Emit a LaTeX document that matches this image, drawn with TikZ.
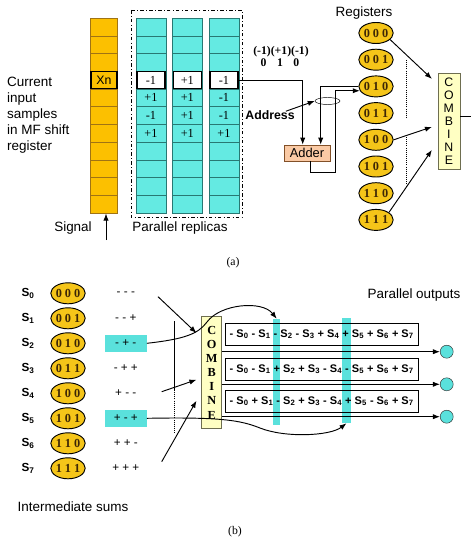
\documentclass[tikz,border=0pt]{standalone}
\usepackage{fontspec}
\setmainfont{Liberation Sans}
\newfontfamily\tms{Liberation Serif}
\usetikzlibrary{arrows.meta,calc,shapes.geometric}

\definecolor{sigorange}{RGB}{252,192,0}
\definecolor{sigline}{RGB}{160,115,20}
\definecolor{repcyan}{RGB}{100,234,226}
\definecolor{repline}{RGB}{40,120,115}
\definecolor{regfill}{RGB}{245,197,25}
\definecolor{regtext}{RGB}{60,38,5}
\definecolor{adderfill}{RGB}{250,202,165}
\definecolor{adderline}{RGB}{130,80,40}
\definecolor{combfill}{RGB}{255,255,195}
\definecolor{combline}{RGB}{110,110,80}
\definecolor{outcyan}{RGB}{90,225,220}

\newcommand{\Sx}[1]{S\textsubscript{#1}}

\tikzset{
	lbl/.style={inner sep=0pt, font=\fontsize{11.5}{13.7}\selectfont},
	boldlbl/.style={inner sep=0pt, font=\bfseries\fontsize{10.5}{12}\selectfont},
	coef/.style={inner sep=0pt, font=\tms\bfseries\fontsize{10}{12}\selectfont},
	capt/.style={inner sep=0pt, font=\tms\fontsize{10}{12}\selectfont},
	sigcolumn/.style={draw=sigline, fill=sigorange, minimum width=0.8cm,
		minimum height=5.85cm, inner sep=0pt},
	repcolumn/.style={draw=repline, fill=repcyan, minimum width=0.9cm,
		minimum height=5.85cm, inner sep=0pt},
	wcell/.style={draw=black, line width=1pt, fill=white, minimum width=0.84cm,
		minimum height=0.5cm, inner sep=0pt, font=\tms\fontsize{10.5}{12}\selectfont},
	val/.style={inner sep=0pt, font=\tms\fontsize{10.5}{12}\selectfont},
	xncell/.style={draw=black, line width=1pt, minimum width=0.78cm,
		minimum height=0.5cm, inner sep=0pt, font=\fontsize{10.5}{12}\selectfont},
	reg/.style={ellipse, draw=black, line width=0.8pt, fill=regfill, minimum width=0.96cm,
		minimum height=0.63cm, inner sep=0pt, text=regtext,
		font=\tms\bfseries\fontsize{10.5}{11}\selectfont},
	adderbox/.style={draw=adderline, fill=adderfill, minimum width=1.38cm,
		minimum height=0.48cm, inner sep=0pt, font=\fontsize{11}{12}\selectfont},
	combtop/.style={draw=combline, fill=combfill, minimum width=0.66cm,
		minimum height=2.88cm, inner sep=0pt, align=center,
		font=\fontsize{10.5}{11.1}\selectfont},
	combbot/.style={draw=combline, fill=combfill, minimum width=0.6cm,
		minimum height=3.35cm, inner sep=0pt, align=center,
		font=\tms\bfseries\fontsize{10.5}{12.1}\selectfont},
	slab/.style={inner sep=0pt, font=\bfseries\fontsize{10}{12}\selectfont},
	patbox/.style={minimum width=1.25cm, minimum height=0.5cm, inner sep=0pt,
		font=\fontsize{10}{12}\selectfont},
	sumbox/.style={draw=black, minimum width=5.8cm, minimum height=0.65cm,
		inner sep=0pt, font=\bfseries\fontsize{9.4}{11}\selectfont},
	hlbar/.style={fill=outcyan, minimum width=0.2cm, inner sep=0pt},
	outc/.style={circle, draw=black!80, fill=outcyan, minimum size=0.39cm, inner sep=0pt},
	conn/.style={line width=0.8pt, -{Latex[length=6pt,width=4.5pt]}},
	line/.style={line width=0.8pt}
}

\begin{document}
\begin{tikzpicture}[x=0.03cm, y=-0.03cm]
	\useasboundingbox (0,0) rectangle (471,540);

	% Signalregister
	\node[sigcolumn] (sigcol) at (104,115.8) {};
	\foreach \k in {1,...,10}
		\draw[sigline] (sigcol.north west) ++(0,\k*17.73) -- ++(26.6,0);
	\node[xncell] (xn) at ($(sigcol.north)+(0,3.5*17.73)$) {Xn\hspace{3pt}};

	% Parallele Replikate
	\foreach \cx [count=\c] in {151,187.3,224}
		\node[repcolumn] (rep\c) at (\cx,115.8) {};
	\foreach \c in {1,2,3}
		\foreach \k in {1,...,10}
			\draw[repline] (rep\c.north west) ++(0,\k*17.73) -- ++(30,0);
	\foreach \v [count=\c] in {-1,+1,-1}
		\node[wcell] (w\c) at ($(rep\c.north)+(0,3.5*17.73)$) {\v};
	\foreach \a/\b/\d [count=\k from 4] in {+1/+1/-1, -1/+1/-1, +1/+1/+1} {
		\node[val] (va\k) at ($(rep1.north)+(0,\k*17.73+8.87)$) {\a};
		\node[val] (vb\k) at ($(rep2.north)+(0,\k*17.73+8.87)$) {\b};
		\node[val] (vc\k) at ($(rep3.north)+(0,\k*17.73+8.87)$) {\d};
	}
	\draw[semithick, dash dot] (131,10) rectangle (242,217);

	% Beschriftungen links
	\node[lbl, anchor=north west, align=left] (samples) at (7,76.5)
		{Current\\input\\samples\\in MF shift\\register};
	\node[lbl] (signal) at (73,228) {Signal};
	\node[lbl] (replicas) at (180,228) {Parallel replicas};
	\coordinate (sigin) at (106,240);
	\draw[conn] (sigin) -- (sigin |- sigcol.south);

	% Register
	\node[lbl] (reglabel) at (364,13) {Registers};
	\foreach \a/\b/\d [count=\i from 0] in {0/0/0,0/0/1,0/1/0,0/1/1,1/0/0,1/0/1,1/1/0,1/1/1}
		\node[reg] (r\i) at (376,33+\i*26.7) {\a\hspace{2.5pt}\b\hspace{2.5pt}\d};
	\draw[densely dotted, thick] (406,60) -- (406,117);
	\draw[densely dotted, thick] (406,137) -- (406,187);

	% Adresse und Addierer
	\node[coef] (coef) at (281,52) {(-1)(+1)(-1)};
	\node[coef] (abits) at (280,63) {0\hspace{9pt}1\hspace{9pt}0};
	\node[adderbox] (adder) at (307,153) {Adder};
	\draw[conn] (w3.east) -| ($(adder.north)+(-4.3,0)$);
	\draw[conn] (r2.west) -| ($(adder.north)+(13.7,0)$);
	\draw[conn] ($(adder.south)+(3,0)$) -- ++(0,11) -| ($(r2.195)+(-24,0)$) -- (r2.195);
	\node[draw, ellipse, minimum width=0.75cm, minimum height=0.21cm, inner sep=0pt]
		(loop) at (327.5,101) {};
	\node[boldlbl] (addr) at (270,115) {Address};
	\draw[conn] ($(addr.north east)+(-9,1)$) -- (loop.west);

	% Kombinieren oben
	\node[combtop] (combA) at (448.85,120.85) {C\\O\\M\\B\\I\\N\\E};
	\draw[conn] (r0.-25) -- ($(combA.north west)+(-5.7,6.3)$);
	\draw[conn] (r4.east) -- ($(combA.north west)+(-5.7,54.3)$);
	\draw[conn] (r7.30) -- ($(combA.north west)+(-5.7,77.3)$);
	\coordinate (outA) at (471,116);
	\draw[line] (outA -| combA.east) -- (outA);
	\node[capt] (capa) at (233,263) {(a)};

	% Zwischensummen
	\foreach \a/\b/\d/\pa/\pb/\pd/\hl [count=\i from 0] in {
		0/0/0/-/-/-/white, 0/0/1/-/-/+/white, 0/1/0/-/+/-/outcyan, 0/1/1/-/+/+/white,
		1/0/0/+/-/-/white, 1/0/1/+/-/+/outcyan, 1/1/0/+/+/-/white, 1/1/1/+/+/+/white} {
		\node[slab] (s\i) at (28,293.3+\i*25) {\Sx{\i}};
		\node[reg, minimum width=0.93cm] (b\i) at (68,293.3+\i*25)
			{\a\hspace{2.5pt}\b\hspace{2.5pt}\d};
		\node[patbox, fill=\hl] (p\i) at (125.8,293.3+\i*25) {\pa\ \pb\ \pd};
	}
	\draw[line] (174,321) -- (174,390);
	\draw[densely dotted, thick] (174,390) -- (174,433);
	\node[lbl] (sums) at (73,507) {Intermediate sums};

	% Kombinieren unten
	\node[combbot] (combB) at (211.7,372.5) {C\\O\\M\\B\\I\\N\\E};
	\coordinate (inB0) at (158,296.7);
	\coordinate (inB1) at (161.7,391.7);
	\coordinate (inB2) at (161.7,461.7);
	\draw[conn] (inB0) -- ($(combB.north west)+(-5,16.6)$);
	\draw[conn] (inB1) -- ($(combB.north west)+(-5,63.3)$);
	\draw[conn] (inB2) -- ($(combB.north west)+(-5,84.3)$);

	% Parallele Ausgaenge
	\node[lbl] (outlabel) at (414,295) {Parallel outputs};
	\node[hlbar, minimum height=3.18cm] (bar1) at (276.7,372) {};
	\node[hlbar, minimum height=3.15cm, minimum width=0.25cm] (bar2) at (346.5,370.5) {};
	\node[sumbox] (e1) at (321.7,334.2)
		{- \Sx0 - \Sx1 - \Sx2 - \Sx3 + \Sx4 + \Sx5 + \Sx6 + \Sx7};
	\node[sumbox] (e2) at (321.7,369.2)
		{- \Sx0 - \Sx1 + \Sx2 + \Sx3 - \Sx4 - \Sx5 + \Sx6 + \Sx7};
	\node[sumbox] (e3) at (321.7,401.3)
		{- \Sx0 + \Sx1 - \Sx2 + \Sx3 - \Sx4 + \Sx5 - \Sx6 + \Sx7};
	\foreach \y [count=\i] in {351.7,384.3,416.7} {
		\node[outc] (o\i) at (446.7,\y) {};
		\draw[conn] (o\i -| combB.east) -- (o\i.west);
	}
	\draw[conn] (p2.east) .. controls (185,339) and (198,334) .. (207,322)
		.. controls (220,304) and (262,300) .. (bar1.north);
	\draw[conn] (p5.east) .. controls (220,417) and (240,420) .. (260,428)
		.. controls (285,438) and (330,436) .. (bar2.south);
	\node[capt] (capb) at (235,532) {(b)};
\end{tikzpicture}
\end{document}
